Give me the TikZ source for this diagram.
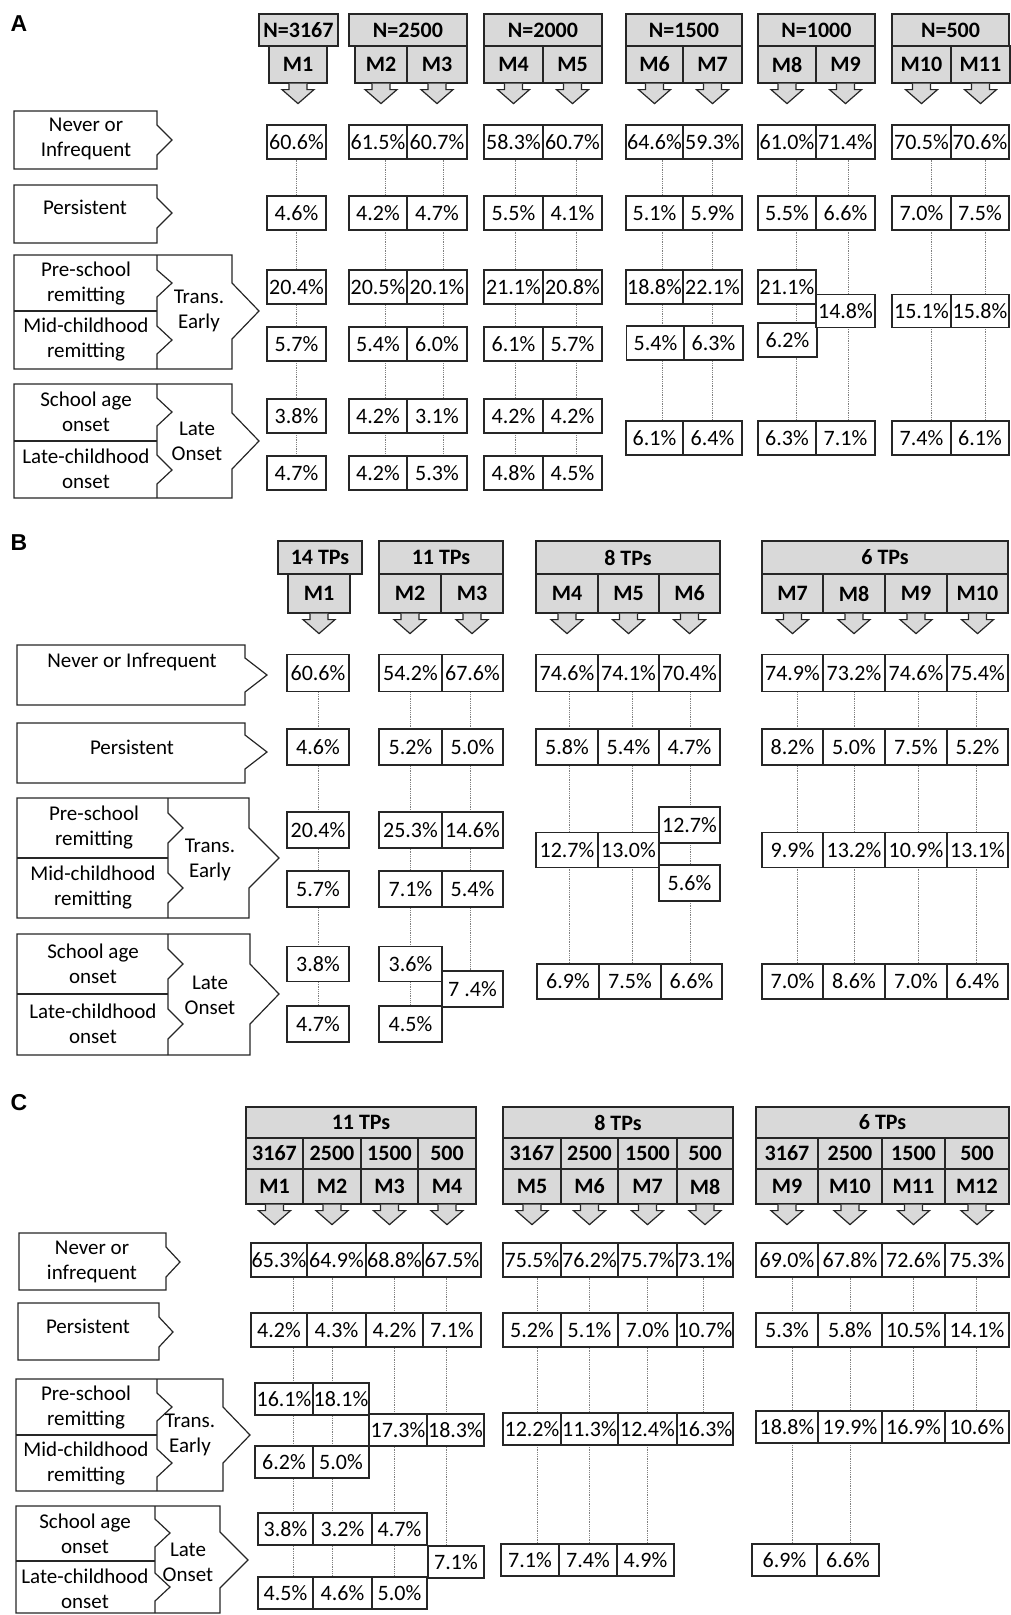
\documentclass[tikz,border=0pt]{standalone}
\usepackage{fontspec}
\setmainfont{Carlito}
\newfontfamily\letterfont{Liberation Sans}
\usepackage{tikz}
\pgfdeclarelayer{bg}
\pgfsetlayers{bg,main}
\definecolor{hdrgray}{HTML}{D9D9D9}
\definecolor{linegray}{HTML}{262626}

\tikzset{
  box/.style={draw=linegray, line width=1.2pt},
  pct/.style={box, fill=white, inner sep=0pt, minimum height=34, font=\fontsize{22}{22}\selectfont},
  hdr/.style={box, fill=hdrgray, inner sep=0pt, font=\bfseries\fontsize{22}{22}\selectfont},
  cat/.style={box, fill=white},
  cattext/.style={align=center, font=\fontsize{21}{25}\selectfont},
  dotline/.style={draw=gray, densely dotted, line width=0.8pt},
  panel/.style={font=\letterfont\bfseries\fontsize{23}{23}\selectfont},
  marrow/.pic={\filldraw[box, fill=hdrgray] (-9,0) -- (-9,6) -- (-16,6) -- (0,20) -- (16,6) -- (9,6) -- (9,0);}
}

\begin{document}
\begin{tikzpicture}[x=1pt, y=-1pt]
	\useasboundingbox (0,0) rectangle (1011,1615);

	% ---------- A ----------
	\node[panel] (labA) at (19,24) {A};
	\foreach \n/\x/\w/\t in {1/298.5/79/3167, 2/408/118/2500, 3/543/118/2000, 4/684/116/1500, 5/816.5/117/1000, 6/950.5/117/500}
		\node[hdr, minimum width=\w, minimum height=32] (ahd\n) at (\x,30) {N=\t};
	\foreach \col/\x/\w in {1/298/58, 2/381/52, 3/437/60, 4/513.5/59, 5/572.5/59, 6/654.5/57, 7/712.5/59, 8/787/58, 9/845.5/59, 10/921.5/59, 11/980.5/59}{
		\node[hdr, minimum width=\w, minimum height=37] (ahm\col) at (\x,64.5) {M\col};
		\pic at (ahm\col.south) {marrow};
	}

	\draw[cat] (14,111) -- (157,111) -- (157,125) -- (172,140) -- (157,155) -- (157,169) -- (14,169) -- cycle;
	\node[cattext] (aNever) at (86,139) {Never or\\Infrequent};
	\draw[cat] (14,185) -- (157,185) -- (157,198) -- (172,213) -- (157,228) -- (157,243) -- (14,243) -- cycle;
	\node[cattext] (aPers) at (85,207) {Persistent};
	\draw[cat] (14,255) -- (232,255) -- (232,283) -- (259,311) -- (232,339) -- (232,369) -- (14,369) -- cycle;
	\draw[box] (157,255) -- (157,270) -- (172,283) -- (157,297) -- (157,326) -- (172,340) -- (157,354) -- (157,369);
	\draw[box] (14,311) -- (157,311);
	\node[cattext] (aPre) at (86,284) {Pre-school\\remitting};
	\node[cattext] (aMid) at (86,340) {Mid-childhood\\remitting};
	\node[cattext] (aTrans) at (199,311) {Trans.\\Early};
	\draw[cat] (14,384) -- (232,384) -- (232,413) -- (259,441) -- (232,469) -- (232,498) -- (14,498) -- cycle;
	\draw[box] (157,384) -- (157,398) -- (172,412) -- (157,426) -- (157,455) -- (172,470) -- (157,484) -- (157,498);
	\draw[box] (14,441) -- (157,441);
	\node[cattext] (aSchool) at (86,412) {School age\\onset};
	\node[cattext] (aLate) at (86,469) {Late-childhood\\onset};
	\node[cattext] (aOnset) at (197,441) {Late\\Onset};

	\foreach \col/\x/\w/\v in {1/296.5/59/60.6, 2/378/58/61.5, 3/437/60/60.7, 4/513.5/59/58.3, 5/572.5/59/60.7, 6/654.5/57/64.6, 7/712.5/59/59.3, 8/787/58/61.0, 9/845.5/59/71.4, 10/921.5/59/70.5, 11/980/58/70.6}
		\node[pct, minimum width=\w] (an\col) at (\x,142) {\v\%};
	\foreach \col/\x/\w/\v in {1/296.5/59/4.6, 2/378/58/4.2, 3/437/60/4.7, 4/513.5/59/5.5, 5/572.5/59/4.1, 6/654.5/57/5.1, 7/712.5/59/5.9, 8/787/58/5.5, 9/845.5/59/6.6, 10/921.5/59/7.0, 11/980/58/7.5}
		\node[pct, minimum width=\w] (ap\col) at (\x,213) {\v\%};
	\foreach \col/\x/\w/\v in {1/296.5/59/20.4, 2/378/58/20.5, 3/437/60/20.1, 4/513.5/59/21.1, 5/572.5/59/20.8, 6/654.5/57/18.8, 7/712.5/59/22.1, 8/787/58/21.1}
		\node[pct, minimum width=\w] (ae\col) at (\x,287) {\v\%};
	\foreach \col/\x/\w/\v/\y in {1/296.5/59/5.7/344, 2/378/58/5.4/344, 3/437/60/6.0/344, 4/513.5/59/6.1/344, 5/572.5/59/5.7/344, 6/655.5/58/5.4/343, 7/713.5/59/6.3/343, 8/787.5/59/6.2/340}
		\node[pct, minimum width=\w] (am\col) at (\x,\y) {\v\%};
	\foreach \col/\x/\w/\v in {9/845.5/59/14.8, 10/921.5/59/15.1, 11/980/58/15.8}
		\node[pct, minimum width=\w, minimum height=33] (at\col) at (\x,311) {\v\%};
	\foreach \col/\x/\w/\v in {1/296.5/59/3.8, 2/378/58/4.2, 3/437/60/3.1, 4/513.5/59/4.2, 5/572.5/59/4.2}
		\node[pct, minimum width=\w] (as\col) at (\x,416) {\v\%};
	\foreach \col/\x/\w/\v in {1/296.5/59/4.7, 2/378/58/4.2, 3/437/60/5.3, 4/513.5/59/4.8, 5/572.5/59/4.5}
		\node[pct, minimum width=\w] (al\col) at (\x,473) {\v\%};
	\foreach \col/\x/\w/\v in {6/654.5/57/6.1, 7/712.5/59/6.4, 8/787/58/6.3, 9/845.5/59/7.1, 10/921.5/59/7.4, 11/980/58/6.1}
		\node[pct, minimum width=\w] (ao\col) at (\x,438) {\v\%};

	\begin{pgfonlayer}{bg}
		\foreach \col/\dx/\b in {1/0/al, 2/7/al, 3/6/al, 4/2/al, 5/4/al, 6/8/ao, 7/0/ao, 8/9/ao, 9/3/ao, 10/10/ao, 11/5/ao}
			\draw[dotline] (an\col.south) ++(\dx,0) coordinate (L) -- (L |- \b\col.north);
	\end{pgfonlayer}

	% ---------- B ----------
	\node[panel] (labB) at (19,543) {B};
	\foreach \n/\x/\w/\t in {1/320/84/14, 2/441/124/11, 3/628/184/8, 4/885/246/6}
		\node[hdr, minimum width=\w, minimum height=33] (bhd\n) at (\x,557.5) {\t\ TPs};
	\foreach \col/\x/\w in {1/319/62, 2/410/62, 3/472/62, 4/567/62, 5/628.5/61, 6/689.5/61, 7/792.5/61, 8/854/62, 9/916/62, 10/977.5/61}{
		\node[hdr, minimum width=\w, minimum height=39] (bhm\col) at (\x,593.5) {M\col};
		\pic at (bhm\col.south) {marrow};
	}

	\draw[cat] (17,645) -- (245,645) -- (245,658) -- (267,675) -- (245,692) -- (245,705) -- (17,705) -- cycle;
	\node[cattext] (bNever) at (132,662) {Never or Infrequent};
	\draw[cat] (17,723) -- (245,723) -- (245,735) -- (267,752) -- (245,769) -- (245,783) -- (17,783) -- cycle;
	\node[cattext] (bPers) at (132,747) {Persistent};
	\draw[cat] (17,798) -- (249,798) -- (249,828) -- (279,858) -- (249,888) -- (249,918) -- (17,918) -- cycle;
	\draw[box] (168,798) -- (168,813) -- (183,828) -- (168,843) -- (168,873) -- (183,888) -- (168,903) -- (168,918);
	\draw[box] (17,858) -- (168,858);
	\node[cattext] (bPre) at (94,828) {Pre-school\\remitting};
	\node[cattext] (bMid) at (93,888) {Mid-childhood\\remitting};
	\node[cattext] (bTrans) at (210,860) {Trans.\\Early};
	\draw[cat] (17,934) -- (250,934) -- (250,964) -- (279,994) -- (250,1024) -- (250,1055) -- (17,1055) -- cycle;
	\draw[box] (168,934) -- (168,949) -- (183,964) -- (168,979) -- (168,1009) -- (183,1024) -- (168,1039) -- (168,1055);
	\draw[box] (17,994) -- (168,994);
	\node[cattext] (bSchool) at (93,964) {School age\\onset};
	\node[cattext] (bLate) at (93,1024) {Late-childhood\\onset};
	\node[cattext] (bOnset) at (210,995) {Late\\Onset};

	\foreach \col/\x/\w/\v in {1/318/62/60.6, 2/410.5/63/54.2, 3/472.5/61/67.6, 4/567/62/74.6, 5/628.5/61/74.1, 6/689.5/61/70.4, 7/792.5/61/74.9, 8/854/62/73.2, 9/916/62/74.6, 10/977.5/61/75.4}
		\node[pct, minimum width=\w, minimum height=37] (bn\col) at (\x,673) {\v\%};
	\foreach \col/\x/\w/\v in {1/318/62/4.6, 2/410.5/63/5.2, 3/472.5/61/5.0, 4/567/62/5.8, 5/628.5/61/5.4, 6/689.5/61/4.7, 7/792.5/61/8.2, 8/854/62/5.0, 9/916/62/7.5, 10/977.5/61/5.2}
		\node[pct, minimum width=\w, minimum height=36] (bp\col) at (\x,747) {\v\%};
	\foreach \col/\x/\w/\v/\y in {1/318/62/20.4/830, 2/410.5/63/25.3/830, 3/472.5/61/14.6/830, 6/689.5/61/12.7/825}
		\node[pct, minimum width=\w, minimum height=36] (be\col) at (\x,\y) {\v\%};
	\foreach \col/\x/\w/\v/\y in {1/318/62/5.7/889, 2/410.5/63/7.1/889, 3/472.5/61/5.4/889, 6/689.5/61/5.6/883}
		\node[pct, minimum width=\w, minimum height=36] (bm\col) at (\x,\y) {\v\%};
	\foreach \col/\x/\w/\v in {4/567/62/12.7, 5/628.5/61/13.0, 7/792.5/61/9.9, 8/854/62/13.2, 9/916/62/10.9, 10/977.5/61/13.1}
		\node[pct, minimum width=\w, minimum height=35] (bt\col) at (\x,850) {\v\%};
	\foreach \col/\x/\w/\v in {1/318/62/3.8, 2/410.5/63/3.6}
		\node[pct, minimum width=\w, minimum height=35] (bs\col) at (\x,964) {\v\%};
	\foreach \col/\x/\w/\v in {1/318/62/4.7, 2/410.5/63/4.5}
		\node[pct, minimum width=\w, minimum height=36] (bl\col) at (\x,1024) {\v\%};
	\node[pct, minimum width=61, minimum height=36] (bo3) at (472.5,989) {7 .4\%};
	\foreach \col/\x/\w/\v in {4/568/62/6.9, 5/630/62/7.5, 6/691.5/61/6.6, 7/792.5/61/7.0, 8/854/62/8.6, 9/916/62/7.0, 10/977.5/61/6.4}
		\node[pct, minimum width=\w, minimum height=35] (bo\col) at (\x,981.5) {\v\%};

	\begin{pgfonlayer}{bg}
		\foreach \col/\dx/\b in {1/0/bl, 2/0/bl, 3/-2/bo, 4/2/bo, 5/4/bo, 6/1/bo, 7/5/bo, 8/0/bo, 9/2/bo, 10/-1/bo}
			\draw[dotline] (bn\col.south) ++(\dx,0) coordinate (L) -- (L |- \b\col.north);
	\end{pgfonlayer}

	% ---------- C ----------
	\node[panel] (labC) at (19,1103) {C};
	\foreach \n/\x/\w/\t in {1/361/230/11, 2/618/230/8, 3/882.5/253/6}
		\node[hdr, minimum width=\w, minimum height=31] (chd\n) at (\x,1122.5) {\t\ TPs};
	\foreach \col/\x/\w/\s in {1/274.5/57/3167, 2/332/58/2500, 3/389.5/57/1500, 4/447/58/500, 5/532/58/3167, 6/589.5/57/2500, 7/647.5/59/1500, 8/705/56/500, 9/787/62/3167, 10/850/64/2500, 11/913.5/63/1500, 12/977/64/500}{
		\node[hdr, minimum width=\w, minimum height=31] (chs\col) at (\x,1153.5) {\s};
		\node[hdr, minimum width=\w, minimum height=35] (chm\col) at (\x,1186.5) {M\col};
		\pic at (chm\col.south) {marrow};
	}

	\draw[cat] (19,1233) -- (166,1233) -- (166,1247) -- (180,1262) -- (166,1277) -- (166,1290) -- (19,1290) -- cycle;
	\node[cattext] (cNever) at (92,1262) {Never or\\infrequent};
	\draw[cat] (18,1303) -- (159,1303) -- (159,1317) -- (173,1332) -- (159,1347) -- (159,1360) -- (18,1360) -- cycle;
	\node[cattext] (cPers) at (88,1326) {Persistent};
	\draw[cat] (16,1379) -- (223,1379) -- (223,1407) -- (250,1435) -- (223,1463) -- (223,1491) -- (16,1491) -- cycle;
	\draw[box] (157,1379) -- (157,1393) -- (172,1407) -- (157,1421) -- (157,1449) -- (172,1463) -- (157,1477) -- (157,1491);
	\draw[box] (16,1435) -- (157,1435);
	\node[cattext] (cPre) at (86,1407) {Pre-school\\remitting};
	\node[cattext] (cMid) at (86,1463) {Mid-childhood\\remitting};
	\node[cattext] (cTrans) at (190,1435) {Trans.\\Early};
	\draw[cat] (16,1506) -- (220,1506) -- (220,1532) -- (248,1560) -- (220,1588) -- (220,1613) -- (16,1613) -- cycle;
	\draw[box] (155,1506) -- (155,1519) -- (170,1533) -- (155,1547) -- (155,1573) -- (170,1587) -- (155,1601) -- (155,1613);
	\draw[box] (16,1561) -- (155,1561);
	\node[cattext] (cSchool) at (85,1534) {School age\\onset};
	\node[cattext] (cLate) at (85,1589) {Late-childhood\\onset};
	\node[cattext] (cOnset) at (188,1562) {Late\\Onset};

	\foreach \col/\x/\w/\v in {1/279/56/65.3, 2/336.5/59/64.9, 3/394.5/57/68.8, 4/452/58/67.5, 5/532/58/75.5, 6/589.5/57/76.2, 7/647.5/59/75.7, 8/705/56/73.1, 9/787/62/69.0, 10/850/64/67.8, 11/913.5/63/72.6, 12/977/64/75.3}
		\node[pct, minimum width=\w] (cn\col) at (\x,1260) {\v\%};
	\foreach \col/\x/\w/\v in {1/279/56/4.2, 2/336.5/59/4.3, 3/394.5/57/4.2, 4/452/58/7.1, 5/532/58/5.2, 6/589.5/57/5.1, 7/647.5/59/7.0, 8/705/56/10.7, 9/787/62/5.3, 10/850/64/5.8, 11/913.5/63/10.5, 12/977/64/14.1}
		\node[pct, minimum width=\w] (cp\col) at (\x,1330) {\v\%};
	\foreach \col/\x/\w/\v in {1/284/58/16.1, 2/341/56/18.1}
		\node[pct, minimum width=\w, minimum height=32] (ce\col) at (\x,1399) {\v\%};
	\foreach \col/\x/\w/\v in {1/284/58/6.2, 2/341/56/5.0}
		\node[pct, minimum width=\w, minimum height=32] (cm\col) at (\x,1462) {\v\%};
	\foreach \col/\x/\w/\v/\y in {3/398/58/17.3/1430, 4/455.5/57/18.3/1430, 5/532/58/12.2/1429, 6/589.5/57/11.3/1429, 7/647.5/59/12.4/1429, 8/705/56/16.3/1429, 9/787/62/18.8/1427, 10/850/64/19.9/1427, 11/913.5/63/16.9/1427, 12/977/64/10.6/1427}
		\node[pct, minimum width=\w, minimum height=32] (ct\col) at (\x,\y) {\v\%};
	\foreach \col/\x/\w/\v in {1/285.5/55/3.8, 2/342.5/59/3.2, 3/399.5/55/4.7}
		\node[pct, minimum width=\w, minimum height=32] (cs\col) at (\x,1529) {\v\%};
	\foreach \col/\x/\w/\v in {1/285.5/55/4.5, 2/342.5/59/4.6, 3/399.5/55/5.0}
		\node[pct, minimum width=\w, minimum height=32] (cl\col) at (\x,1593) {\v\%};
	\foreach \col/\x/\w/\v/\y in {4/456/56/7.1/1562, 5/530/58/7.1/1560, 6/588/58/7.4/1560, 7/645.5/57/4.9/1560, 9/784.5/65/6.9/1560, 10/848/62/6.6/1560}
		\node[pct, minimum width=\w, minimum height=32] (co\col) at (\x,\y) {\v\%};

	\begin{pgfonlayer}{bg}
		\foreach \col/\dx/\b in {1/14/cl, 2/-4.5/cl, 3/0/cl, 4/-6/co, 5/5/co, 6/0/co, 7/0/co, 8/-2/ct, 9/5/co, 10/0/co, 11/0/ct, 12/-1/ct}
			\draw[dotline] (cn\col.south) ++(\dx,0) coordinate (L) -- (L |- \b\col.north);
	\end{pgfonlayer}
\end{tikzpicture}
\end{document}
